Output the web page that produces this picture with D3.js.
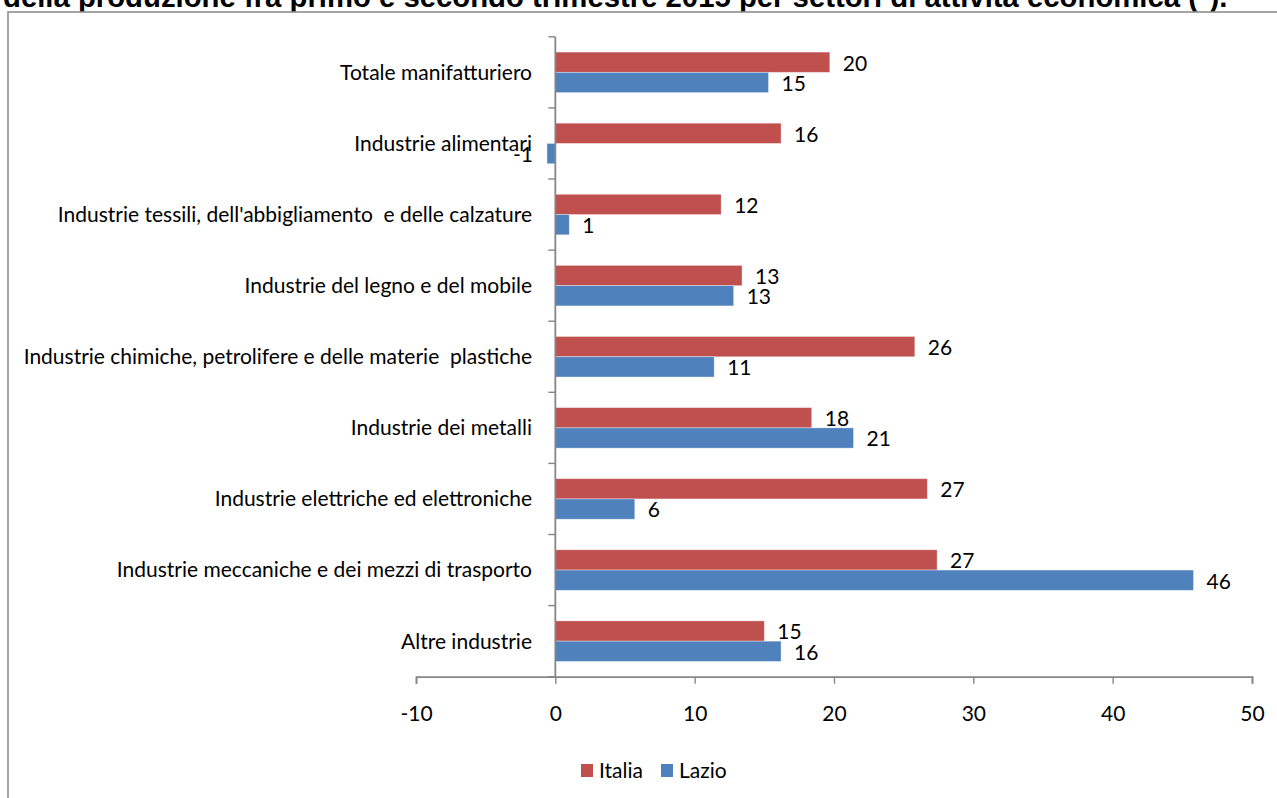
<!DOCTYPE html>
<html>
<head>
<meta charset="utf-8">
<script src="https://cdn.jsdelivr.net/npm/d3@7"></script>
<style>
  html, body { margin: 0; padding: 0; background: #fff; overflow: hidden; }
  svg { display: block; }
</style>
</head>
<body>
<svg id="chart" width="1277" height="798"></svg>
<script>
// Sectors, top to bottom
const categories = [
  "Totale manifatturiero",
  "Industrie alimentari",
  "Industrie tessili, dell'abbigliamento  e delle calzature",
  "Industrie del legno e del mobile",
  "Industrie chimiche, petrolifere e delle materie  plastiche",
  "Industrie dei metalli",
  "Industrie elettriche ed elettroniche",
  "Industrie meccaniche e dei mezzi di trasporto",
  "Altre industrie"
];
const seriesNames = ["Italia", "Lazio"];
const italiaValues = [19.7, 16.2, 11.9, 13.4, 25.8, 18.4, 26.7, 27.4, 15.0];
const lazioValues  = [15.3, -0.6, 1.0, 12.8, 11.4, 21.4, 5.7, 45.8, 16.2];
const xTicks = [-10, 0, 10, 20, 30, 40, 50];
const seriesColors = ["#C0504D", "#4F81BD"];
const titleText = "della produzione fra primo e secondo trimestre 2015 per settori di attività economica (*).";

const svg = d3.select("#chart");
const labelFont = "Lato, 'Open Sans', sans-serif";
const fontSize = 21;
// integers with a plain hyphen for negatives
const fmt = v => String(Math.round(v));

// Title line (partly hidden behind the chart frame)
svg.append("text")
  .attr("x", 3).attr("y", 7)
  .attr("font-family", "'Liberation Sans', Arial, sans-serif")
  .attr("font-weight", "bold")
  .attr("font-size", 29.3)
  .attr("fill", "#000")
  .text(titleText);

// Chart frame
svg.append("rect")
  .attr("x", 8).attr("y", 12)
  .attr("width", 1400).attr("height", 900)
  .attr("fill", "#fff")
  .attr("stroke", "#8e8e8e")
  .attr("stroke-width", 1.6);

const plot = { left: 416, right: 1252, top: 36.8, bottom: 676.7 };

const x = d3.scaleLinear().domain([-10, 50]).range([plot.left, plot.right]);
const y = d3.scaleBand().domain(categories)
  .range([plot.top, plot.bottom])
  .paddingInner(0.43).paddingOuter(0.215);
const ySub = d3.scaleBand().domain(seriesNames).range([0, y.bandwidth()]);

const axisColor = "#868686";

// Bars
const rows = categories.map((c, i) => ({
  cat: c,
  vals: [
    { s: "Italia", v: italiaValues[i], color: seriesColors[0] },
    { s: "Lazio", v: lazioValues[i], color: seriesColors[1] }
  ]
}));

const groups = svg.append("g").selectAll("g")
  .data(rows).join("g")
  .attr("transform", d => `translate(0,${y(d.cat)})`);

groups.selectAll("rect")
  .data(d => d.vals).join("rect")
  .attr("x", d => x(Math.min(0, d.v)))
  .attr("y", d => ySub(d.s))
  .attr("width", d => Math.abs(x(d.v) - x(0)))
  .attr("height", ySub.bandwidth())
  .attr("fill", d => d.color)
  .attr("stroke", "rgba(255,255,255,0.45)")
  .attr("stroke-width", 0.8);

// Value labels
groups.selectAll("text.val")
  .data(d => d.vals).join("text")
  .attr("class", "val")
  .attr("x", d => d.v >= 0 ? x(d.v) + 13 : x(d.v) - 14)
  .attr("y", d => ySub(d.s) + ySub.bandwidth() / 2 + 1)
  .attr("dy", "0.35em")
  .attr("text-anchor", d => d.v >= 0 ? "start" : "end")
  .attr("font-family", labelFont)
  .attr("font-size", fontSize)
  .attr("fill", "#000")
  .text(d => fmt(d.v));

// Vertical axis at zero with tick marks between categories
const yAxisG = svg.append("g");
yAxisG.append("line")
  .attr("x1", x(0)).attr("x2", x(0))
  .attr("y1", plot.top).attr("y2", plot.bottom)
  .attr("stroke", axisColor).attr("stroke-width", 1.8);
const boundaries = d3.range(categories.length + 1).map(i => plot.top + i * y.step());
yAxisG.selectAll("line.tk").data(boundaries).join("line")
  .attr("class", "tk")
  .attr("x1", x(0) - 7).attr("x2", x(0))
  .attr("y1", d => d).attr("y2", d => d)
  .attr("stroke", axisColor).attr("stroke-width", 1.4);

// Category labels
svg.append("g").selectAll("text")
  .data(categories).join("text")
  .attr("x", 532)
  .attr("y", d => y(d) + y.bandwidth() / 2)
  .attr("dy", "0.35em")
  .attr("text-anchor", "end")
  .attr("font-family", labelFont)
  .attr("font-size", fontSize)
  .attr("fill", "#000")
  .style("white-space", "pre")
  .text(d => d);

// Horizontal value axis
const xAxis = d3.axisBottom(x).tickValues(xTicks).tickSize(7).tickPadding(22).tickFormat(fmt);
const xg = svg.append("g")
  .attr("transform", `translate(0,${plot.bottom})`)
  .call(xAxis);
xg.select(".domain").attr("stroke", axisColor).attr("stroke-width", 1.8);
xg.selectAll(".tick line").attr("stroke", axisColor).attr("stroke-width", 1.4);
xg.selectAll(".tick text")
  .attr("font-family", labelFont)
  .attr("font-size", fontSize)
  .attr("fill", "#000");

// Legend
const legend = svg.append("g").attr("transform", "translate(581,764)");
const legendItems = [
  { name: seriesNames[0], color: seriesColors[0], dx: 0 },
  { name: seriesNames[1], color: seriesColors[1], dx: 80 }
];
const li = legend.selectAll("g").data(legendItems).join("g")
  .attr("transform", d => `translate(${d.dx},0)`);
li.append("rect").attr("width", 12).attr("height", 13).attr("fill", d => d.color);
li.append("text")
  .attr("x", 18).attr("y", 7)
  .attr("dy", "0.35em")
  .attr("font-family", labelFont)
  .attr("font-size", fontSize)
  .attr("fill", "#000")
  .text(d => d.name);
</script>
</body>
</html>
